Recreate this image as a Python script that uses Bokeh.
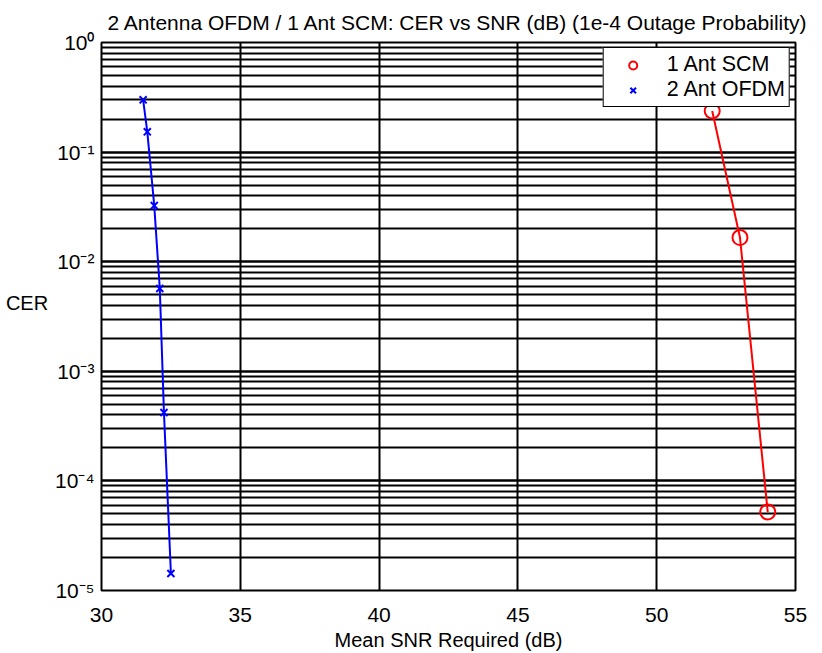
from bokeh.plotting import figure
from bokeh.models import (ColumnDataSource, Legend, LegendItem, FixedTicker,
                          CustomJSTickFormatter, Range1d, LogTicker)
from bokeh.embed import file_html
from bokeh.resources import INLINE

# ---- data ----
snr_scm = [52.0, 53.0, 54.0]
cer_scm = [0.237, 0.0166, 5.2e-5]

snr_ofdm = [31.5, 31.65, 31.9, 32.1, 32.25, 32.5]
cer_ofdm = [0.30, 0.153, 0.0325, 0.0057, 4.2e-4, 1.43e-5]

x_ticks = [30, 35, 40, 45, 50, 55]
title_text = "2 Antenna OFDM / 1 Ant SCM: CER vs SNR (dB) (1e-4 Outage Probability)"
x_label = "Mean SNR Required (dB)"
y_label = "CER"
name_scm = "1 Ant SCM"
name_ofdm = "2 Ant OFDM"

FONT = "Liberation Sans"

p = figure(width=822, height=653, y_axis_type="log",
           x_range=Range1d(30, 55), y_range=Range1d(1e-5, 1),
           output_backend="svg", toolbar_location=None,
           min_border_left=101, min_border_right=27, min_border_top=41,
           min_border_bottom=61)

p.title.text = title_text
p.title.text_font = FONT
p.title.text_font_size = "21px"
p.title.text_font_style = "normal"
p.title.text_color = "black"
p.title.align = "left"
p.title.offset = 6
p.title.standoff = 17

p.background_fill_color = "white"
p.border_fill_color = "white"
p.outline_line_color = "black"
p.outline_line_width = 2
p.outline_line_alpha = 1.0

# axes
xa = p.xaxis[0]
xa.ticker = FixedTicker(ticks=x_ticks)
xa.axis_label = x_label
ya = p.yaxis[0]
ya.ticker = LogTicker(num_minor_ticks=10)
ya.axis_label = y_label + "\n "
ya.axis_label_orientation = "horizontal"
ya.formatter = CustomJSTickFormatter(code="""
const sup = {'0':'\u2070','1':'\u00b9','2':'\u00b2','3':'\u00b3','4':'\u2074',
             '5':'\u2075','6':'\u2076','7':'\u2077','8':'\u2078','9':'\u2079','-':'\u207b'};
const e = Math.round(Math.log10(tick));
return '10' + String(e).split('').map(c => sup[c]).join('');
""")

for ax in (xa, ya):
    ax.axis_line_color = None
    ax.major_tick_out = 0
    ax.minor_tick_out = 0
    ax.major_tick_in = 0
    ax.minor_tick_in = 0
    ax.major_label_text_font = FONT
    ax.major_label_text_font_size = "21px"
    ax.major_label_text_color = "black"
    ax.axis_label_text_font = FONT
    ax.axis_label_text_font_size = "20px"
    ax.axis_label_text_font_style = "normal"
    ax.axis_label_text_color = "black"

xa.major_label_standoff = 17
xa.axis_label_standoff = 4
ya.major_label_standoff = 7
ya.axis_label_standoff = 4

# grid
p.xgrid.grid_line_color = "black"
p.xgrid.grid_line_width = 2
p.xgrid.grid_line_alpha = 1.0
p.ygrid.grid_line_color = "black"
p.ygrid.grid_line_width = 2
p.ygrid.grid_line_alpha = 1.0
p.ygrid.minor_grid_line_color = "black"
p.ygrid.minor_grid_line_width = 2
p.ygrid.minor_grid_line_alpha = 1.0

src_scm = ColumnDataSource(dict(x=snr_scm, y=cer_scm))
src_ofdm = ColumnDataSource(dict(x=snr_ofdm, y=cer_ofdm))

p.line("x", "y", source=src_scm, line_color="red", line_width=2)
r_scm = p.scatter("x", "y", source=src_scm, marker="circle", size=15,
                  fill_color=None, line_color="red", line_width=2)
p.line("x", "y", source=src_ofdm, line_color="blue", line_width=2)
r_ofdm = p.scatter("x", "y", source=src_ofdm, marker="x", size=10,
                   line_color="blue", line_width=2)

legend = Legend(items=[LegendItem(label=name_scm, renderers=[r_scm]),
                       LegendItem(label=name_ofdm, renderers=[r_ofdm])],
                location="top_right")
legend.label_text_font = FONT
legend.label_text_font_size = "21.5px"
legend.label_text_line_height = 0.8
legend.label_text_color = "black"
legend.border_line_color = "black"
legend.border_line_width = 1
legend.border_line_alpha = 1.0
legend.background_fill_color = "white"
legend.background_fill_alpha = 1.0
legend.margin = 5
legend.padding = 4
legend.spacing = 0
legend.glyph_width = 50
legend.glyph_height = 20
legend.label_height = 20
legend.label_standoff = 9
p.add_layout(legend)

open("out.html", "w").write(file_html(p, INLINE))
